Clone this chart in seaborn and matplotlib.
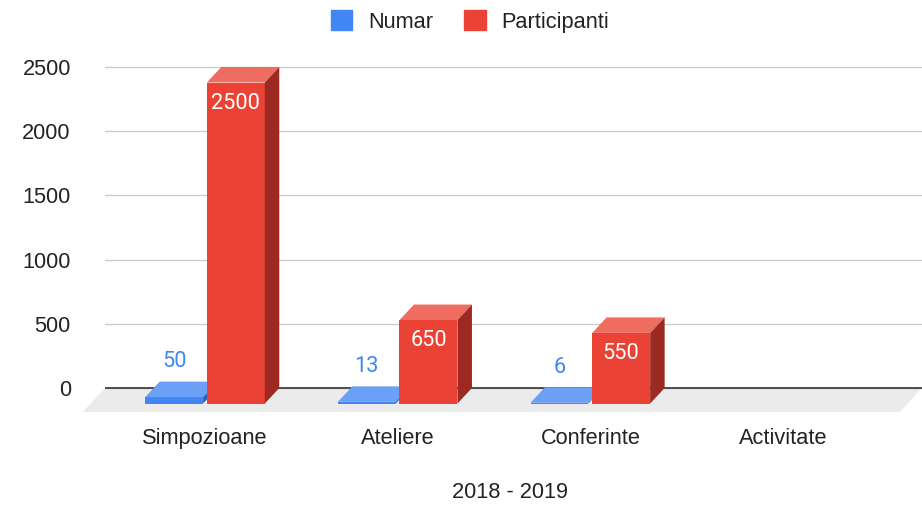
import numpy as np
import pandas as pd
import matplotlib
matplotlib.use("Agg")
import matplotlib.pyplot as plt
from matplotlib.patches import Polygon, Patch
import seaborn as sns

# date
categorii = ["Simpozioane", "Ateliere", "Conferinte", "Activitate"]
serii = ["Numar", "Participanti"]
numar = [50, 13, 6, np.nan]
participanti = [2500, 650, 550, np.nan]
valori_y = [0, 500, 1000, 1500, 2000, 2500]
titlu_x = "2018 - 2019"

culori_fata = ["#4285F4", "#EA4335"]
culori_sus = ["#6CA0F6", "#EE6C60"]
culori_lat = ["#2F62B5", "#9C2A22"]

df = pd.DataFrame({
    "categorie": categorii + categorii,
    "serie": [serii[0]] * len(categorii) + [serii[1]] * len(categorii),
    "valoare": numar + participanti,
})

sns.set_theme(style="white")
plt.rcParams["font.family"] = ["Liberation Sans", "DejaVu Sans"]
FS = 15.7
TXT = "#222222"

fig = plt.figure(figsize=(9.22, 5.12), dpi=100)
ax = fig.add_axes([105 / 922, 92 / 512, 817 / 922, 365 / 512])

sns.barplot(data=df, x="categorie", y="valoare", hue="serie",
            order=categorii, hue_order=serii, palette=culori_fata,
            width=0.64, gap=0.06, saturation=1, errorbar=None,
            legend=False, ax=ax)

xl, xr = -0.594, 3.646
yb, yt = -249, 2593.5
ax.set_xlim(xl, xr)
ax.set_ylim(yb, yt)

# adancimea 3D in unitati de date
px_x = ax.bbox.width / (xr - xl)
px_y = ax.bbox.height / (yt - yb)
dx, dy = 14.5 / px_x, 15.5 / px_y
fdx, fdy = 22.3 / px_x, 24 / px_y

# podea
ax.add_patch(Polygon([(xl, 0), (xr, 0), (xr - fdx, -fdy), (xl - fdx, -fdy)],
                     closed=True, color="#ebebeb", lw=0, clip_on=False, zorder=0.1))
ax.axhline(0, color="#333333", lw=1.2, zorder=1)

for k, cont in enumerate(ax.containers):
    for bar in cont:
        h = bar.get_height()
        if not np.isfinite(h):
            bar.set_visible(False)
            continue
        x0, w = bar.get_x(), bar.get_width()
        bar.set_x(x0 - dx)
        bar.set_y(-dy)
        bar.set_linewidth(0)
        bar.set_zorder(3 + k)
        fx0, fx1 = x0 - dx, x0 - dx + w
        ax.add_patch(Polygon([(fx0, h - dy), (fx1, h - dy), (x0 + w, h), (x0, h)],
                             closed=True, color=culori_sus[k], lw=0, zorder=3 + k))
        ax.add_patch(Polygon([(fx1, -dy), (x0 + w, 0), (x0 + w, h), (fx1, h - dy)],
                             closed=True, color=culori_lat[k], lw=0, zorder=3 + k))
        cx = fx0 + w / 2
        if k == 0:
            ax.annotate(f"{h:g}", (cx, h), xytext=(0, 14.4), textcoords="offset points",
                        ha="center", va="center", fontsize=FS, family="Roboto",
                        color=culori_fata[0], zorder=6)
        else:
            ax.annotate(f"{h:g}", (cx, h - dy), xytext=(0, -14.8), textcoords="offset points",
                        ha="center", va="center", fontsize=FS, family="Roboto",
                        color="white", zorder=6)

ax.set_yticks(valori_y)
ax.set_xticks([i - dx for i in range(len(categorii))], categorii)
ax.grid(axis="y", color="#cccccc", lw=1)
ax.grid(axis="x", visible=False)
ax.set_axisbelow(True)
for s in ax.spines.values():
    s.set_visible(False)
ax.tick_params(axis="both", length=0, labelsize=FS, colors=TXT)
ax.tick_params(axis="y", pad=24.6)
ax.tick_params(axis="x", pad=6)
ax.set_ylabel("")
ax.set_xlabel(titlu_x, fontsize=FS, color=TXT)
ax.xaxis.label.set_va("center")
ax.xaxis.set_label_coords(0.496, -(493 - 420) / 365)

handles = [Patch(color=c, label=s) for c, s in zip(culori_fata, serii)]
leg = fig.legend(handles=handles, loc="center", bbox_to_anchor=(470 / 922, 1 - 21.5 / 512),
                 ncol=2, frameon=False, fontsize=FS, handlelength=1.0, handleheight=1.0,
                 handletextpad=0.73, columnspacing=1.4)
for t in leg.get_texts():
    t.set_color(TXT)

fig.savefig("out.png", dpi=100)
